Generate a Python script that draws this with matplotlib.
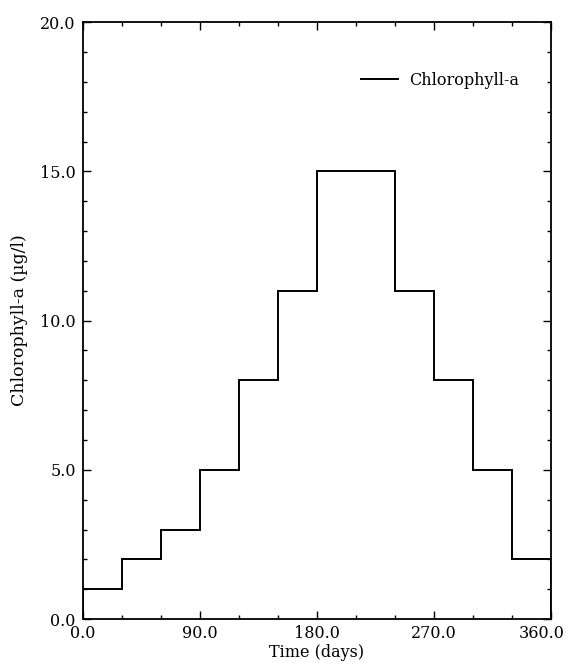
import numpy as np
import matplotlib
matplotlib.use("Agg")
import matplotlib.pyplot as plt
from matplotlib.ticker import MultipleLocator, FormatStrFormatter

# monthly chlorophyll-a forcing (30-day steps)
day_edges = [0, 30, 60, 90, 120, 150, 180, 210, 240, 270, 300, 330, 360]
chl = [1.0, 2.0, 3.0, 5.0, 8.0, 11.0, 15.0, 15.0, 11.0, 8.0, 5.0, 2.0]
x_ticks = [0, 90, 180, 270, 360]

plt.rcParams["font.family"] = ["DejaVu Serif"]
plt.rcParams["font.size"] = 11.5

fig = plt.figure(figsize=(5.67, 6.70), dpi=100)
ax = fig.add_axes([0.146, 0.076, 0.826, 0.891])

ax.stairs(chl, day_edges, color="black", lw=1.4, label="Chlorophyll-a")

ax.set_xlim(0, 360)
ax.set_ylim(0, 20)
# last x label is drawn separately so it can sit a bit left of its tick
ax.set_xticks(x_ticks, [f"{v:.1f}" for v in x_ticks[:-1]] + [""])
ax.annotate(f"{x_ticks[-1]:.1f}", xy=(x_ticks[-1], 0), xytext=(-6.5, -4),
            textcoords="offset points", ha="center", va="top",
            annotation_clip=False)
ax.xaxis.set_minor_locator(MultipleLocator(30))
ax.yaxis.set_major_locator(MultipleLocator(5))
ax.yaxis.set_minor_locator(MultipleLocator(1))
ax.yaxis.set_major_formatter(FormatStrFormatter("%.1f"))
ax.tick_params(which="both", direction="in", top=True, right=True, width=1.0)
ax.tick_params(which="major", length=6)
ax.tick_params(axis="y", which="major", pad=5)
ax.tick_params(axis="x", which="major", pad=4)
ax.tick_params(which="minor", length=3)
for s in ax.spines.values():
    s.set_linewidth(1.3)

ax.set_xlabel("Time (days)", labelpad=2)
ax.set_ylabel("Chlorophyll-a (\u00b5g/l)", labelpad=9, fontsize=12.5)

ax.legend(loc="center right", bbox_to_anchor=(0.962, 0.903), frameon=False,
          handlelength=2.3, handletextpad=0.7, fontsize=11.5)

fig.savefig("out.png", dpi=100)
